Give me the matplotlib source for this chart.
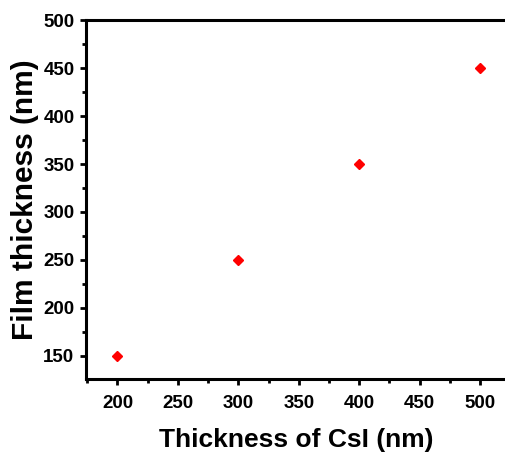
import matplotlib

matplotlib.use("Agg")
import matplotlib.pyplot as plt
from matplotlib.ticker import MultipleLocator

plt.rcParams["font.family"] = ["Liberation Sans", "DejaVu Sans"]
plt.rcParams["font.weight"] = "bold"

csi_thickness = [200, 300, 400, 500]
film_thickness = [150, 250, 350, 450]

fig = plt.figure(figsize=(5.06, 4.55), dpi=100)
ax = fig.add_axes([0.170, 0.167, 0.830, 0.789])

ax.plot(csi_thickness, film_thickness, "D", color="red", ms=5.5, mec="red")

ax.set_xlim(174, 521.5)
ax.set_ylim(126, 500)
ax.xaxis.set_major_locator(MultipleLocator(50))
ax.xaxis.set_minor_locator(MultipleLocator(25))
ax.yaxis.set_major_locator(MultipleLocator(50))
ax.yaxis.set_minor_locator(MultipleLocator(25))

for side in ("left", "bottom", "top"):
    ax.spines[side].set_linewidth(2.2)
ax.spines["right"].set_visible(False)

ax.tick_params(which="major", direction="out", length=4.3, width=2, labelsize=13.5, pad=4)
ax.tick_params(which="minor", direction="out", length=2.8, width=2)
ax.tick_params(axis="x", which="major", pad=7.5)
ax.tick_params(top=False, right=False, which="both")
for lbl in ax.get_xticklabels() + ax.get_yticklabels():
    lbl.set_fontweight("bold")

ax.set_xlabel("Thickness of CsI (nm)", fontsize=19, fontweight="bold", labelpad=11)
ax.set_ylabel("Film thickness (nm)", fontsize=21.5, fontweight="bold", labelpad=3)

fig.savefig("out.png", dpi=100)
